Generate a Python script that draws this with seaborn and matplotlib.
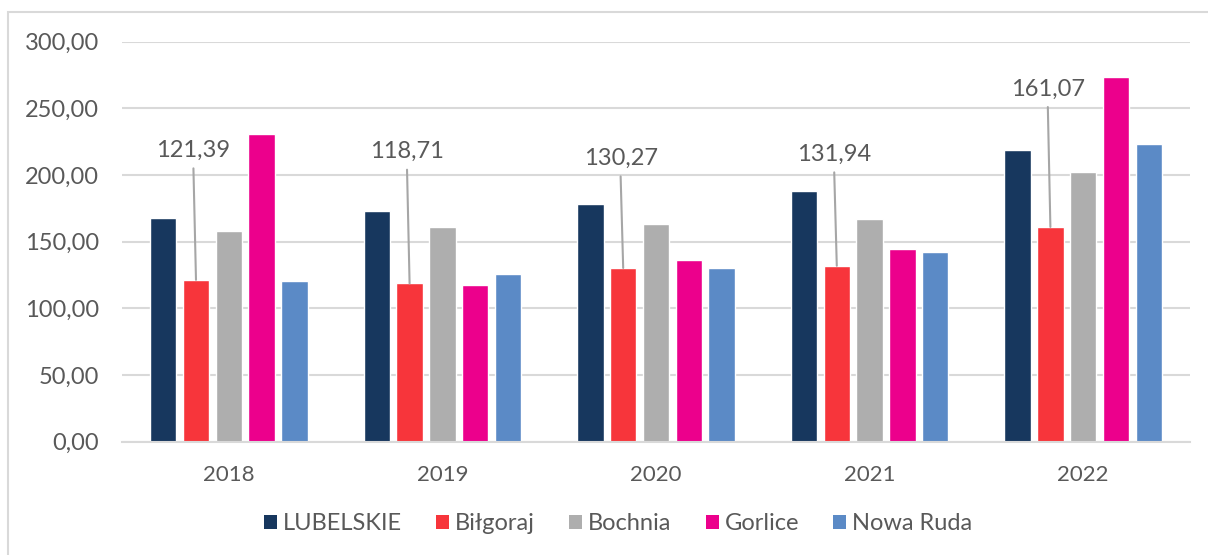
import matplotlib
matplotlib.use("Agg")
import matplotlib.pyplot as plt
import matplotlib.patches as mpatches
from matplotlib.ticker import FuncFormatter, MultipleLocator
import seaborn as sns
import pandas as pd

years = ["2018", "2019", "2020", "2021", "2022"]
regions = ["LUBELSKIE", "Biłgoraj", "Bochnia", "Gorlice", "Nowa Ruda"]
lubelskie = [167.5, 173.3, 178.0, 188.0, 218.5]
bilgoraj = [121.39, 118.71, 130.27, 131.94, 161.07]
bochnia = [158.0, 161.3, 163.0, 167.0, 202.0]
gorlice = [230.5, 117.3, 136.0, 144.3, 273.3]
nowa_ruda = [120.5, 125.5, 130.5, 142.0, 223.3]
bilgoraj_labels = ["121,39", "118,71", "130,27", "131,94", "161,07"]

# leader line tops (data units) for the labelled Biłgoraj bars
label_line_top = [205, 204, 199, 202, 251]

colors = ["#17375E", "#F7353B", "#AEAEAE", "#EC008C", "#5B8AC6"]
text_color = "#595959"
grid_color = "#D9D9D9"

series = [lubelskie, bilgoraj, bochnia, gorlice, nowa_ruda]
rows = []
for reg, vals in zip(regions, series):
    for yr, v in zip(years, vals):
        rows.append({"year": yr, "region": reg, "value": v})
df = pd.DataFrame(rows)

sns.set_theme(style="white")
plt.rcParams["font.family"] = ["Lato", "DejaVu Sans"]

fig = plt.figure(figsize=(12.08, 5.55), dpi=100)
ax = fig.add_axes([122 / 1208, 1 - 441.7 / 555, (1190 - 122) / 1208, 400 / 555])

sns.barplot(data=df, x="year", y="value", hue="region", hue_order=regions,
            order=years, palette=colors, width=0.768, gap=0.2, saturation=1,
            ax=ax, legend=False, errorbar=None)

ax.set_ylim(0, 300)
ax.set_xlim(-0.5, 4.5)
ax.yaxis.set_major_locator(MultipleLocator(50))
ax.yaxis.set_major_formatter(FuncFormatter(lambda v, p: f"{v:.2f}".replace(".", ",")))
ax.grid(axis="y", color=grid_color, linewidth=1.5)
ax.set_axisbelow(True)
for s in ["left", "right", "top"]:
    ax.spines[s].set_visible(False)
ax.spines["bottom"].set_color(grid_color)
ax.spines["bottom"].set_linewidth(1.5)
ax.tick_params(axis="y", length=0, pad=16.5, labelsize=17, labelcolor=text_color)
ax.tick_params(axis="x", length=0, pad=17, labelsize=16, labelcolor=text_color)
ax.set_xlabel("")
ax.set_ylabel("")

# Biłgoraj data labels with leader lines
for bar, lab, top in zip(ax.containers[1], bilgoraj_labels, label_line_top):
    cx = bar.get_x() + bar.get_width() / 2
    h = bar.get_height()
    ax.plot([cx - 0.012, cx], [top, h], color="#A6A6A6", linewidth=1.5, zorder=3)
    ax.annotate(lab, xy=(cx - 0.012, top), xytext=(0, 13), textcoords="offset points",
                ha="center", va="center", fontsize=17, color=text_color)

handles = [mpatches.Patch(facecolor=c, edgecolor="none", label=r) for c, r in zip(colors, regions)]
fig.legend(handles=handles, loc="center", bbox_to_anchor=(618 / 1208, 1 - 524 / 555),
           ncol=5, frameon=False, fontsize=17, labelcolor=text_color,
           handlelength=0.55, handleheight=0.55, handletextpad=0.25, columnspacing=1.45)

border = mpatches.Rectangle((8 / 1208, -0.1), 1.2, (543 / 555) + 0.1, transform=fig.transFigure,
                            fill=False, edgecolor=grid_color, linewidth=1.5)
fig.patches.append(border)

fig.savefig("out.png", dpi=100)
